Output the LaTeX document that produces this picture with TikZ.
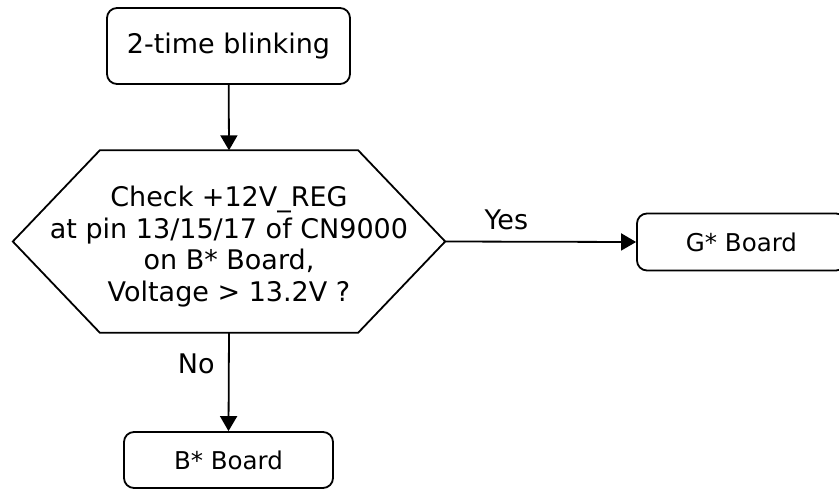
\documentclass[tikz,border=0pt]{standalone}
\usepackage{fontspec}
\setmainfont{DejaVu Sans}
\usetikzlibrary{arrows.meta,calc}
\newcommand{\grosstxt}{\fontsize{27}{31.5}\selectfont}
\newcommand{\kleintxt}{\fontsize{24.5}{28}\selectfont}
\tikzset{kasten/.style={draw,line width=1.8pt,rounded corners=10pt,inner sep=0},
  pfeil/.style={line width=1.8pt,-{Triangle[length=15pt,width=17pt]}},
  sechseck/.style={line width=1.8pt,line join=miter}}
\begin{document}
\begin{tikzpicture}[x=1pt,y=-1pt]
\useasboundingbox (0,0) rectangle (839,490);
\node[kasten,minimum width=243,minimum height=76,font=\grosstxt] (blink) at (228.5,46) {2-time blinking};
\node[inner sep=0,minimum width=432,minimum height=182] (check) at (229,241.5) {};
\draw[sechseck] (check.west) -- ($(check.north west)+(87,0)$) -- ($(check.north east)+(-87,0)$)
  -- (check.east) -- ($(check.south east)+(-87,0)$) -- ($(check.south west)+(87,0)$) -- cycle;
\node[align=center,font=\grosstxt,inner sep=0] (checktxt) at ($(check.center)+(0,5)$)
  {Check +12V\_REG\\at pin 13/15/17 of CN9000\\on B* Board,\\Voltage > 13.2V ?};
\node[kasten,minimum width=209,minimum height=57,font=\kleintxt] (gboard) at (741.5,242) {G* Board};
\node[kasten,minimum width=209,minimum height=56,font=\kleintxt] (bboard) at (228.5,460) {B* Board};
\draw[pfeil] (blink) -- (check.north);
\draw[pfeil] (check.east) -- node[above=8pt,pos=0.32,font=\grosstxt] (ja) {Yes} (gboard.west);
\draw[pfeil] (check.south) -- node[left=10pt,pos=0.32,font=\grosstxt] (nein) {No} (bboard.north);
\end{tikzpicture}
\end{document}
